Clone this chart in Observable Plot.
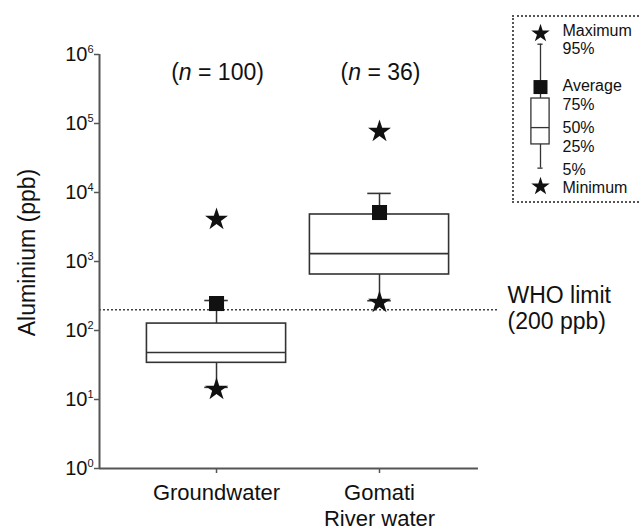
<!DOCTYPE html>
<html>
<head>
<meta charset="utf-8">
<script src="https://cdn.jsdelivr.net/npm/d3@7"></script>
<script src="https://cdn.jsdelivr.net/npm/@observablehq/plot@0.6"></script>
<style>
html, body { margin: 0; padding: 0; background: #fff; overflow: hidden; }
#wrap { position: relative; width: 639px; height: 532px; font-family: "Liberation Sans", Arial, Helvetica, sans-serif; }
#chart { position: absolute; left: 0; top: 0; }
#legend { position: absolute; left: 512px; top: 15px; width: 135px; height: 184px; border: 2px dotted #555; background: #fff; }
</style>
</head>
<body>
<div id="wrap"><div id="chart"></div><div id="legend"></div></div>
<script>
// ---- data ----
const categories = ["Groundwater", "Gomati\nRiver water"];
const sampleSizes = [100, 36];
const minimum = [14, 255];
const p5 = [15, 270];
const q1 = [34, 648];
const median = [48, 1300];
const q3 = [126, 4800];
const average = [246, 5130];
const p95 = [272, 9700];
const maximum = [4060, 76600];
const whoLimit = 200;
const whoLabel = "WHO limit\n(200 ppb)";
const yTicks = [1, 10, 100, 1e3, 1e4, 1e5, 1e6];
const yTitle = "Aluminium (ppb)";

// legend
const legendLabels = ["Maximum", "95%", "Average", "75%", "50%", "25%", "5%", "Minimum"];
const legendLabelLevels = [10.15, 9.0, 6.55, 5.35, 3.8, 2.6, 1.1, -0.1];
const legendGlyph = {minimum: 0, p5: 1.2, q1: 2.75, median: 3.85, q3: 5.75, average: 6.5, p95: 9.3, maximum: 10};

const rows = categories.map((c, k) => ({
  i: k + 1, cat: c, n: sampleSizes[k],
  minimum: minimum[k], p5: p5[k], q1: q1[k], median: median[k],
  q3: q3[k], average: average[k], p95: p95[k], maximum: maximum[k]
}));

const xLo = 0.282, xAxisEnd = 2.607, xHi = 2.724;
const boxHalf = 0.427, capHalf = 0.072;
const ink = "#111", lineInk = "#333", axisInk = "#555";

const chart = Plot.plot({
  width: 639, height: 532,
  marginLeft: 99, marginRight: 142, marginTop: 54, marginBottom: 64,
  style: {fontFamily: "'Liberation Sans', Arial, Helvetica, sans-serif", fontSize: "20px", color: ink, background: "white"},
  x: {domain: [xLo, xHi], axis: null},
  y: {type: "log", domain: [1, 1e6], axis: null},
  marks: [
    Plot.ruleY([whoLimit], {stroke: "#444", strokeWidth: 1.6, strokeDasharray: "2,2"}),
    Plot.ruleY([1], {x1: () => xLo, x2: () => xAxisEnd, stroke: axisInk, strokeWidth: 2}),
    Plot.ruleX([xLo], {y1: () => 1, y2: () => 1e6, stroke: axisInk, strokeWidth: 2}),
    Plot.axisY(yTicks, {tickSize: 5, tickPadding: 1, stroke: axisInk, strokeWidth: 1.5, fill: ink, fontSize: 20,
      tickFormat: d => "10^" + Math.round(Math.log10(d)), label: null}),
    Plot.axisX([1, 2], {tickSize: 5, tickPadding: 9, stroke: axisInk, strokeWidth: 1.5, fill: ink, fontSize: 22,
      lineHeight: 1.15, tickFormat: i => categories[i - 1], label: null}),
    Plot.text([yTitle], {text: d => d, frameAnchor: "left", textAnchor: "middle", lineAnchor: "middle",
      rotate: -90, dx: -72, dy: -9, fontSize: 23, fill: ink}),
    // whiskers
    Plot.ruleX(rows, {x: "i", y1: "q3", y2: "p95", stroke: lineInk, strokeWidth: 1.5}),
    Plot.ruleX(rows, {x: "i", y1: "p5", y2: "q1", stroke: lineInk, strokeWidth: 1.5}),
    // boxes
    Plot.rect(rows, {x1: d => d.i - boxHalf, x2: d => d.i + boxHalf, y1: "q1", y2: "q3", fill: "white", stroke: lineInk, strokeWidth: 1.6}),
    Plot.ruleY(rows, {y: "median", x1: d => d.i - boxHalf, x2: d => d.i + boxHalf, stroke: lineInk, strokeWidth: 1.6}),
    // caps
    Plot.ruleY(rows, {y: "p95", x1: d => d.i - capHalf, x2: d => d.i + capHalf, stroke: lineInk, strokeWidth: 1.6}),
    Plot.ruleY(rows, {y: "p5", x1: d => d.i - capHalf, x2: d => d.i + capHalf, stroke: lineInk, strokeWidth: 1.6}),
    // average, extremes
    Plot.dot(rows, {x: "i", y: "average", symbol: "square", r: 8.5, fill: ink, stroke: "none"}),
    Plot.dot(rows, {x: "i", y: "maximum", symbol: "star", r: 7.2, fill: ink, stroke: "none"}),
    Plot.dot(rows, {x: "i", y: "minimum", symbol: "star", r: 7.2, fill: ink, stroke: "none"}),
    // n labels
    Plot.text(rows, {x: "i", text: d => `(n = ${d.n})`, frameAnchor: "top", lineAnchor: "middle", dy: 18, dx: 1, fontSize: 23, fill: ink}),
    // WHO label
    Plot.text([whoLimit], {y: d => d, text: () => whoLabel, frameAnchor: "right", textAnchor: "start", lineAnchor: "middle",
      dx: 10, dy: -2, lineHeight: 1.15, fontSize: 23, fill: ink})
  ]
});
document.getElementById("chart").appendChild(chart);

// superscript exponents on y tick labels
d3.select(chart).selectAll('g[aria-label="y-axis tick label"] text').each(function() {
  const t = d3.select(this);
  const s = t.text();
  const [base, exp] = s.split("^");
  t.text(base);
  t.append("tspan").attr("font-size", 11).attr("dy", "-8").text(exp);
});
// italic n
d3.select(chart).selectAll("text").each(function() {
  const t = d3.select(this);
  const s = t.text();
  if (s.startsWith("(n = ")) {
    t.text("(");
    t.append("tspan").attr("font-style", "italic").text("n");
    t.append("tspan").text(s.slice(2));
  }
});

// ---- legend ----
const lg = legendGlyph;
const legendRows = legendLabels.map((l, k) => ({label: l, level: legendLabelLevels[k]}));
const legend = Plot.plot({
  width: 135, height: 184,
  marginLeft: 0, marginRight: 135 - 52, marginTop: 16, marginBottom: 15,
  style: {fontFamily: "'Liberation Sans', Arial, Helvetica, sans-serif", color: ink, background: "white"},
  x: {domain: [-1, 1], axis: null},
  y: {domain: [0, 10], axis: null},
  marks: [
    Plot.ruleX([0], {y1: () => lg.q3, y2: () => lg.p95, stroke: lineInk, strokeWidth: 1.3}),
    Plot.ruleX([0], {y1: () => lg.p5, y2: () => lg.q1, stroke: lineInk, strokeWidth: 1.3}),
    Plot.rect([lg], {x1: () => -0.35, x2: () => 0.35, y1: "q1", y2: "q3", fill: "white", stroke: lineInk, strokeWidth: 1.3}),
    Plot.ruleY([lg], {y: "median", x1: () => -0.35, x2: () => 0.35, stroke: lineInk, strokeWidth: 1.3}),
    Plot.ruleY([lg], {y: "p95", x1: () => -0.1, x2: () => 0.1, stroke: lineInk, strokeWidth: 1.3}),
    Plot.ruleY([lg], {y: "p5", x1: () => -0.1, x2: () => 0.1, stroke: lineInk, strokeWidth: 1.3}),
    Plot.dot([lg], {x: () => 0, y: "average", symbol: "square", r: 7.9, fill: ink, stroke: "none"}),
    Plot.dot([lg], {x: () => 0, y: "maximum", symbol: "star", r: 5.8, fill: ink, stroke: "none"}),
    Plot.dot([lg], {x: () => 0, y: "minimum", symbol: "star", r: 5.8, fill: ink, stroke: "none"}),
    Plot.text(legendRows, {x: () => 0, y: "level", text: "label", dx: 22, textAnchor: "start", fontSize: 16, fill: ink})
  ]
});
document.getElementById("legend").appendChild(legend);
</script>
</body>
</html>
